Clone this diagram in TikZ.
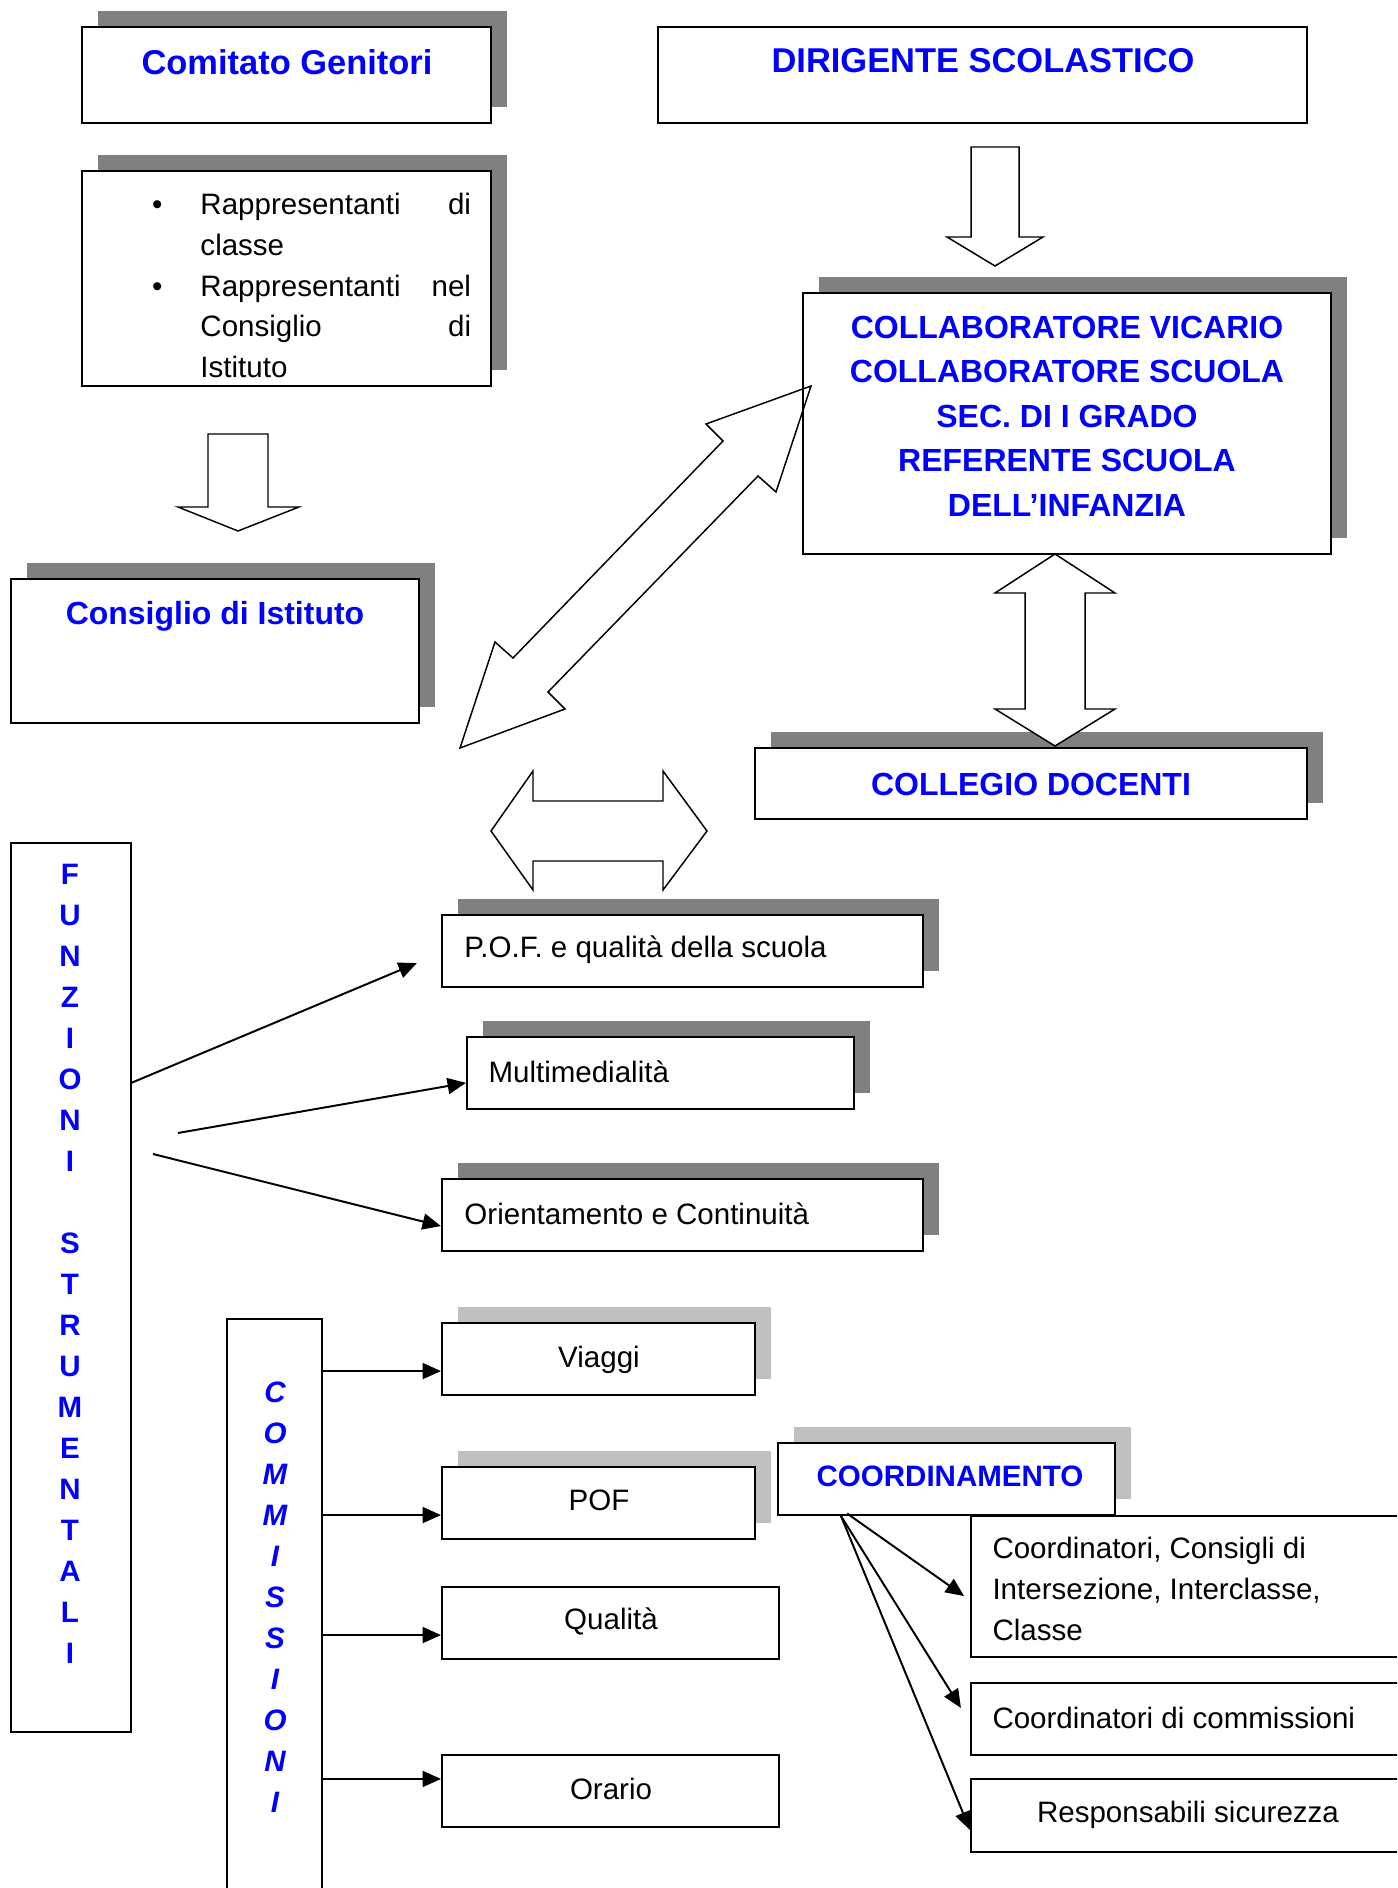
\documentclass[tikz,border=0pt]{standalone}
\usepackage{fontspec}
\setmainfont{Liberation Sans}
\usetikzlibrary{arrows.meta,fit,shadows}
\definecolor{headblue}{RGB}{0,0,255}
\definecolor{shadowdark}{RGB}{128,128,128}
\definecolor{shadowlight}{RGB}{192,192,192}
\tikzset{
  box/.style={draw,line width=0.8pt,fill=white,inner sep=0pt},
  darkshade/.style={drop shadow={shadow xshift=6.5pt,shadow yshift=6.5pt,opacity=1,fill=shadowdark}},
  lightshade/.style={drop shadow={shadow xshift=6.5pt,shadow yshift=6.5pt,opacity=1,fill=shadowlight}},
  headtext/.style={text=headblue,font=\fontsize{13}{18.1}\selectfont\bfseries,inner sep=0pt},
  bigheadtext/.style={text=headblue,font=\fontsize{14}{19.5}\selectfont\bfseries,inner sep=0pt},
  bodytext/.style={font=\fontsize{12}{16.5}\selectfont,inner sep=0pt},
  letters/.style={text=headblue,font=\fontsize{12}{16.67}\selectfont\bfseries,align=center,inner sep=0pt},
  blockarrow/.style={draw,line width=0.6pt,fill=white,line join=miter},
  link/.style={line width=0.8pt,-{Triangle[length=7.5pt,width=6.5pt]}}
}

\begin{document}
\begin{tikzpicture}[x=0.4065pt,y=-0.4065pt]
  \path[use as bounding box] (0,0) rectangle (1397,1888);
  \clip (0,0) rectangle (1397,1888);
  % genitori
  \node[box,darkshade,fit={(82,27) (491,123)}] (comitato) {};
  \node[bigheadtext] (comitatotext) at (287,62) {Comitato Genitori};
  \node[box,darkshade,fit={(82,171) (491,386)}] (rappr) {};
  \node[bodytext,anchor=north west,text width=110pt,align=left]
    (rapprtext) at (200,193)
    {\leavevmode\llap{\textbullet\hspace{15.5pt}}Rappresentanti\hfill di\\
     classe\\
     \leavevmode\llap{\textbullet\hspace{15.5pt}}Rappresentanti\hfill nel\\
     Consiglio\hfill di\\
     Istituto};
  \node[box,darkshade,fit={(11,579) (419,723)}] (consiglio) {};
  \node[headtext] (consigliotext) at (215,616) {Consiglio di Istituto};
  % dirigenza
  \node[box,fit={(658,27) (1307,123)}] (dirigente) {};
  \node[bigheadtext] (dirigentetext) at (983,61) {DIRIGENTE SCOLASTICO};
  \node[box,darkshade,fit={(803,293) (1331,554)}] (collab) {};
  \node[headtext,align=center] (collabtext) at (1067,416)
    {COLLABORATORE VICARIO\\COLLABORATORE SCUOLA\\SEC. DI I GRADO\\REFERENTE SCUOLA\\DELL’INFANZIA};
  \node[box,darkshade,fit={(755,748) (1307,819)}] (collegio) {};
  \node[headtext] (collegiotext) at (1031,784) {COLLEGIO DOCENTI};
  % funzioni strumentali
  \node[box,fit={(11,843) (131,1732)}] (funzioni) {};
  \node[letters] (funzionitext) at (70,1264)
    {F\\U\\N\\Z\\I\\O\\N\\I\\[16.67pt]S\\T\\R\\U\\M\\E\\N\\T\\A\\L\\I};
  \node[box,darkshade,fit={(442,915) (923,987)}] (pofq) {};
  \node[bodytext,anchor=west] (pofqtext) at (464,950) {P.O.F. e qualità della scuola};
  \node[box,darkshade,fit={(467,1037) (854,1109)}] (multimedia) {};
  \node[bodytext,anchor=west] (multimediatext) at (488,1072) {Multimedialità};
  \node[box,darkshade,fit={(442,1179) (923,1251)}] (orient) {};
  \node[bodytext,anchor=west] (orienttext) at (464,1214) {Orientamento e Continuità};
  % commissioni
  \node[box,fit={(227,1319) (322,1960)}] (commissioni) {};
  \node[letters,font=\fontsize{12}{16.67}\selectfont\bfseries\itshape]
    (commissionitext) at (275,1597) {C\\O\\M\\M\\I\\S\\S\\I\\O\\N\\I};
  \node[box,lightshade,fit={(442,1323) (755,1395)}] (viaggi) {};
  \node[bodytext] (viaggitext) at (599,1360) {Viaggi};
  \node[box,lightshade,fit={(442,1467) (755,1539)}] (pof) {};
  \node[bodytext] (poftext) at (599,1500) {POF};
  \node[box,fit={(442,1587) (779,1659)}] (qualita) {};
  \node[bodytext] (qualitatext) at (611,1621) {Qualità};
  \node[box,fit={(442,1755) (779,1827)}] (orario) {};
  \node[bodytext] (orariotext) at (611,1789) {Orario};
  % coordinamento
  \node[box,lightshade,fit={(778,1443) (1115,1515)}] (coordin) {};
  \node[headtext,font=\fontsize{12}{16.5}\selectfont\bfseries] (coordintext) at (950,1476) {COORDINAMENTO};
  \node[box,fit={(971,1516) (1405,1657)}] (coordcons) {};
  \node[bodytext,anchor=west,align=left] (coordconstext) at (992,1589)
    {Coordinatori, Consigli di\\Intersezione, Interclasse,\\Classe};
  \node[box,fit={(971,1683) (1405,1755)}] (coordcomm) {};
  \node[bodytext,anchor=west] (coordcommtext) at (992,1718) {Coordinatori di commissioni};
  \node[box,fit={(971,1779) (1405,1852)}] (sicurezza) {};
  \node[bodytext] (sicurezzatext) at (1188,1815) {Responsabili sicurezza};
  % block arrows
  \draw[blockarrow]
    (208,434) -- (268,434) -- (268,507) -- (299,507) -- (238,531)
    -- (178,507) -- (208,507) -- cycle;
  \draw[blockarrow]
    (971,147) -- (1019,147) -- (1019,237) -- (1043,237) -- (995,266)
    -- (947,237) -- (971,237) -- cycle;
  \draw[blockarrow,fill=none]
    (811,386) -- (776,492) -- (758,476) -- (548,692) -- (565,709)
    -- (460,748) -- (495,642) -- (513,658) -- (723,441) -- (706,424) -- cycle;
  \draw[blockarrow]
    (1055,554) -- (1115,593) -- (1085,593) -- (1085,709) -- (1115,709)
    -- (1055,746) -- (995,709) -- (1025,709) -- (1025,593) -- (995,593) -- cycle;
  \draw[blockarrow]
    (491,831) -- (533,771) -- (533,801) -- (663,801) -- (663,771)
    -- (707,831) -- (663,890) -- (663,861) -- (533,861) -- (533,890) -- cycle;
  % links funzioni
  \coordinate (fa) at (131,1083);
  \coordinate (fb) at (178,1133);
  \coordinate (fc) at (153,1154);
  \draw[link] (fa) -- ([xshift=-9.8pt,yshift=-4.9pt]pofq.west);
  \draw[link] (fb) -- ([yshift=-4pt]multimedia.west);
  \draw[link] (fc) -- ([yshift=-4.5pt]orient.west);
  % links commissioni
  \foreach \n/\s in {viaggi/-4.9,pof/-4.9,qualita/-4.9,orario/4.9}{
    \coordinate (in\n) at ([yshift=\s pt]\n.west);
    \draw[link] (commissioni.east |- in\n) -- (in\n);
  }
  % links coordinamento
  \coordinate (cout) at ([xshift=26pt]coordin.south west);
  \draw[link] ([xshift=2.5pt,yshift=1pt]cout) -- ([xshift=-2.4pt,yshift=-3.9pt]coordcons.west);
  \draw[link] (cout) -- ([xshift=-3.7pt,yshift=4.5pt]coordcomm.west);
  \draw[link] (cout) -- ([yshift=-5.9pt]sicurezza.west);
\end{tikzpicture}
\end{document}
